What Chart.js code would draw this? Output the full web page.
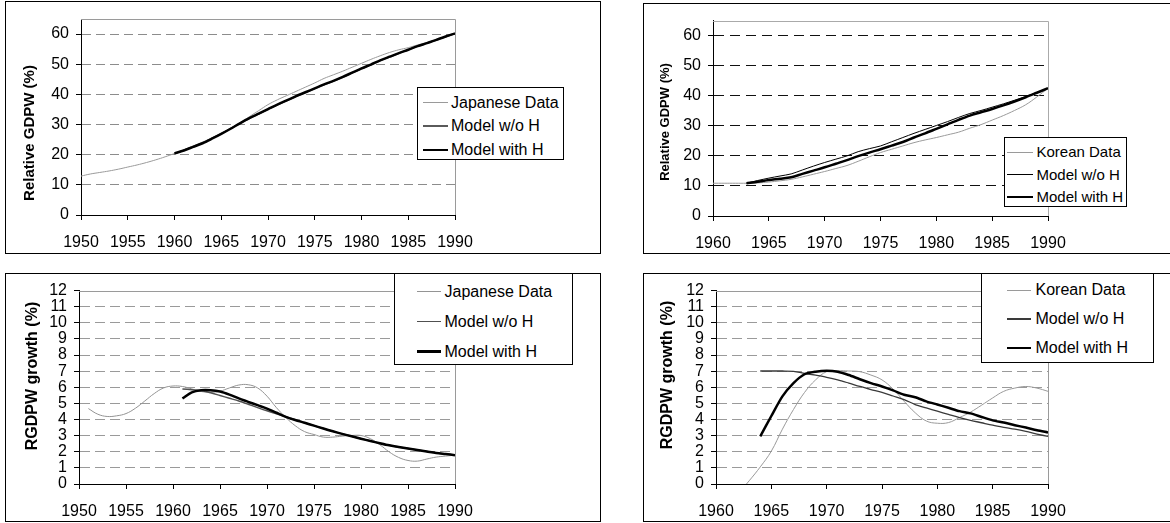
<!DOCTYPE html>
<html lang="en">
<head>
<meta charset="UTF-8">
<title>Relative GDPW and RGDPW growth - Japan and Korea</title>
<script src="https://cdn.jsdelivr.net/npm/chart.js"></script>
<style>
  body { margin: 0; width: 1170px; height: 523px; overflow: hidden; position: relative; background: #fff;
         font-family: "Liberation Sans", Arial, sans-serif; color: #000; }
  .panel { position: absolute; border: 1px solid #000; box-sizing: border-box; overflow: hidden; background: #fff; }
  .panel canvas { position: absolute; left: 0; top: 0; }
  .legend { position: absolute; border: 1px solid #000; box-sizing: border-box; background: #fff; }
  .legend .row { position: absolute; left: 0; right: 0; height: 20px; line-height: 20px; white-space: nowrap; }
  .legend .swatch { position: absolute; }
  .legend .text { position: absolute; top: 0; }
</style>
</head>
<body>

<div class="panel" style="left:5px;top:1px;width:596px;height:253px"><canvas id="c1" width="594" height="251"></canvas></div>
<div class="panel" style="left:643px;top:3px;width:532px;height:251px"><canvas id="c2" width="530" height="249"></canvas></div>
<div class="panel" style="left:5px;top:273px;width:596px;height:249px"><canvas id="c3" width="594" height="247"></canvas></div>
<div class="panel" style="left:643px;top:273px;width:532px;height:249px"><canvas id="c4" width="530" height="247"></canvas></div>

<script>
// years on the x axis
const years1950 = [1950, 1951, 1952, 1953, 1954, 1955, 1956, 1957, 1958, 1959,
                   1960, 1961, 1962, 1963, 1964, 1965, 1966, 1967, 1968, 1969,
                   1970, 1971, 1972, 1973, 1974, 1975, 1976, 1977, 1978, 1979,
                   1980, 1981, 1982, 1983, 1984, 1985, 1986, 1987, 1988, 1989, 1990];
const years1960 = [1960, 1961, 1962, 1963, 1964, 1965, 1966, 1967, 1968, 1969,
                   1970, 1971, 1972, 1973, 1974, 1975, 1976, 1977, 1978, 1979,
                   1980, 1981, 1982, 1983, 1984, 1985, 1986, 1987, 1988, 1989, 1990];

// tick labels
const xTicksJp = [1950, 1955, 1960, 1965, 1970, 1975, 1980, 1985, 1990];
const xTicksKr = [1960, 1965, 1970, 1975, 1980, 1985, 1990];
const relTicks = [0, 10, 20, 30, 40, 50, 60];
const growthTicks = [0, 1, 2, 3, 4, 5, 6, 7, 8, 9, 10, 11, 12];

// Japan, relative GDPW (%), 1950-1990
const jpRelData = [12.9, 13.6, 14.1, 14.6, 15.2, 15.9, 16.6, 17.4, 18.3, 19.3,
                   20.4, 21.6, 22.9, 24.2, 25.6, 27.0, 28.7, 30.5, 32.6, 34.6,
                   36.6, 38.2, 39.6, 41.0, 42.4, 43.8, 45.3, 46.5, 47.7, 49.0,
                   50.3, 51.6, 52.8, 53.9, 54.8, 55.5, 56.4, 57.2, 58.1, 59.1, 60.2];
const jpRelNoH = [null, null, null, null, null, null, null, null, null, null,
                  20.4, 21.5, 22.7, 23.9, 25.4, 27.0, 28.7, 30.4, 32.0, 33.5,
                  35.0, 36.5, 37.9, 39.3, 40.6, 41.9, 43.2, 44.4, 45.7, 47.1,
                  48.5, 49.8, 51.2, 52.4, 53.6, 54.8, 56.0, 57.0, 58.1, 59.1, 60.2];
const jpRelWithH = [null, null, null, null, null, null, null, null, null, null,
                    20.4, 21.4, 22.6, 23.8, 25.3, 26.9, 28.6, 30.4, 32.1, 33.6,
                    35.1, 36.6, 38.0, 39.4, 40.7, 42.0, 43.3, 44.5, 45.8, 47.2,
                    48.6, 49.9, 51.3, 52.5, 53.7, 54.8, 56.0, 57.0, 58.1, 59.2, 60.2];

// Korea, relative GDPW (%), 1960-1990
const krRelData = [10.9, 10.9, 10.9, 10.9, 11.0, 11.3, 11.7, 12.2, 13.0, 13.9,
                   14.8, 15.8, 16.8, 18.2, 19.7, 21.1, 22.2, 23.3, 24.4, 25.3,
                   26.1, 27.0, 27.9, 29.2, 30.4, 31.9, 33.4, 35.1, 37.0, 39.6, 42.5];
const krRelNoH = [null, null, null, 10.9, 11.8, 12.6, 13.3, 14.0, 15.3, 16.6,
                  17.8, 18.9, 20.0, 21.4, 22.4, 23.3, 24.7, 26.1, 27.5, 28.8,
                  30.1, 31.4, 32.8, 34.1, 35.1, 36.2, 37.3, 38.5, 39.7, 41.1, 42.5];
const krRelWithH = [null, null, null, 10.9, 11.4, 12.0, 12.4, 12.9, 14.0, 15.1,
                    16.2, 17.4, 18.6, 19.9, 21.1, 22.2, 23.4, 24.6, 26.1, 27.5,
                    29.0, 30.5, 32.0, 33.4, 34.5, 35.6, 36.8, 38.1, 39.5, 41.0, 42.5];

// Japan, RGDPW growth (%), 1950-1990
const jpGrowthData = [null, 4.68, 4.33, 4.19, 4.23, 4.37, 4.70, 5.15, 5.61, 5.96,
                      6.08, 6.05, 5.90, 5.74, 5.69, 5.76, 5.96, 6.14, 6.16, 5.96,
                      5.45, 4.74, 4.13, 3.62, 3.25, 3.07, 2.91, 2.91, 2.97, 3.01,
                      3.01, 2.81, 2.44, 1.99, 1.65, 1.46, 1.42, 1.55, 1.67, 1.73, 1.79];
const jpGrowthNoH = [null, null, null, null, null, null, null, null, null, null,
                     null, 5.90, 5.85, 5.80, 5.66, 5.49, 5.32, 5.15, 4.95, 4.74,
                     4.54, 4.36, 4.17, 3.99, 3.80, 3.62, 3.44, 3.27, 3.11, 2.96,
                     2.81, 2.67, 2.53, 2.40, 2.30, 2.20, 2.11, 2.02, 1.93, 1.86, 1.79];
const jpGrowthWithH = [null, null, null, null, null, null, null, null, null, null,
                       null, 5.31, 5.69, 5.82, 5.82, 5.74, 5.55, 5.31, 5.10, 4.89,
                       4.68, 4.42, 4.17, 3.97, 3.80, 3.62, 3.44, 3.27, 3.11, 2.96,
                       2.81, 2.67, 2.53, 2.40, 2.30, 2.20, 2.11, 2.02, 1.93, 1.86, 1.79];

// Korea, RGDPW growth (%), 1960-1990
const krGrowthData = [null, null, -0.6, 0.2, 1.06, 2.04, 3.40, 4.62, 5.68, 6.46,
                      6.97, 7.03, 7.01, 6.97, 6.76, 6.46, 5.89, 5.13, 4.42, 3.91,
                      3.77, 3.81, 4.12, 4.46, 4.89, 5.34, 5.75, 5.95, 6.05, 5.95, 5.75];
const krGrowthNoH = [null, null, null, null, 7.01, 7.01, 7.01, 6.99, 6.87, 6.75,
                     6.62, 6.46, 6.26, 6.05, 5.86, 5.68, 5.46, 5.24, 4.93, 4.72,
                     4.52, 4.32, 4.12, 3.95, 3.80, 3.65, 3.52, 3.40, 3.26, 3.10, 2.95];
const krGrowthWithH = [null, null, null, null, 2.95, 4.22, 5.44, 6.26, 6.81, 6.97,
                       7.03, 6.97, 6.76, 6.50, 6.26, 6.05, 5.81, 5.54, 5.38, 5.13,
                       4.93, 4.73, 4.52, 4.38, 4.16, 3.95, 3.81, 3.65, 3.50, 3.34, 3.20];

const FONT = '"Liberation Sans", Arial, sans-serif';

// grey frame on top and right side of the plot area
const plotFrame = {
    id: 'plotFrame',
    beforeDatasetsDraw(chart, args, opts) {
        const {ctx, chartArea: a} = chart;
        const top = Math.round(a.top) + 0.5, right = Math.round(a.right) + 0.5;
        ctx.save();
        ctx.strokeStyle = opts.color;
        ctx.lineWidth = 1;
        ctx.beginPath();
        ctx.moveTo(a.left, top);
        ctx.lineTo(right, top);
        ctx.lineTo(right, a.bottom);
        ctx.stroke();
        ctx.restore();
    }
};

// rotated y axis title, placed like the original
const sideTitle = {
    id: 'sideTitle',
    afterDraw(chart, args, o) {
        const ctx = chart.ctx;
        ctx.save();
        ctx.translate(o.x, o.y);
        ctx.rotate(-Math.PI / 2);
        ctx.font = 'bold ' + o.size + 'px ' + FONT;
        ctx.fillStyle = '#000';
        ctx.textAlign = 'center';
        ctx.textBaseline = 'middle';
        ctx.fillText(o.text, 0, 0);
        ctx.restore();
    }
};

function buildLegend(chart, lg) {
    const box = document.createElement('div');
    box.className = 'legend';
    Object.assign(box.style, {
        left: lg.left + 'px', top: lg.top + 'px', width: lg.width + 'px', height: lg.height + 'px',
        fontSize: lg.size + 'px'
    });
    chart.data.datasets.forEach((ds, i) => {
        const row = document.createElement('div');
        row.className = 'row';
        row.style.top = (lg.rowTop + i * lg.rowGap - 10) + 'px';
        const sw = document.createElement('span');
        sw.className = 'swatch';
        Object.assign(sw.style, {
            left: lg.lineX + 'px', width: lg.lineW + 'px', height: ds.borderWidth + 'px',
            top: (10 - ds.borderWidth / 2) + 'px', background: ds.borderColor
        });
        const tx = document.createElement('span');
        tx.className = 'text';
        tx.style.left = lg.textX + 'px';
        tx.textContent = ds.label;
        row.appendChild(sw);
        row.appendChild(tx);
        box.appendChild(row);
    });
    document.body.appendChild(box);
}

function makePanel(p) {
    const canvas = document.getElementById(p.canvas);
    const n = p.series.length;
    const chart = new Chart(canvas, {
        type: 'line',
        data: {
            datasets: p.series.map((s, i) => ({
                label: s.label,
                data: p.years.map((x, k) => ({x: x, y: s.values[k]})),
                borderColor: s.color,
                borderWidth: s.width,
                tension: s.tension,
                pointRadius: 0,
                fill: false,
                order: n - i
            }))
        },
        options: {
            responsive: false,
            animation: false,
            events: [],
            layout: { padding: { left: 0, top: p.area.top, right: p.area.right, bottom: 0 } },
            plugins: {
                legend: { display: false },
                tooltip: { enabled: false },
                plotFrame: { color: p.frame },
                sideTitle: p.title
            },
            scales: {
                x: {
                    type: 'linear',
                    min: p.xTicks[0],
                    max: p.xTicks[p.xTicks.length - 1],
                    afterBuildTicks: s => { s.ticks = p.xTicks.map(v => ({value: v})); },
                    afterFit: s => { s.height = p.area.xHeight; },
                    ticks: { autoSkip: false, maxRotation: 0, padding: 13, color: '#000',
                             font: { family: FONT, size: 16 }, callback: v => String(v) },
                    grid: { drawOnChartArea: false, tickLength: 5, tickColor: '#000', color: '#000' },
                    border: { color: '#000', width: 1 }
                },
                y: {
                    type: 'linear',
                    min: 0,
                    max: p.yMax,
                    afterBuildTicks: s => { s.ticks = p.yTicks.map(v => ({value: v})); },
                    afterFit: s => { s.width = p.area.left; },
                    ticks: { autoSkip: false, padding: 7, color: '#000',
                             font: { family: FONT, size: 16 }, callback: v => String(v) },
                    grid: {
                        color: c => (c.tick && (c.tick.value === 0 || c.tick.value === p.yMax)) ? 'rgba(0,0,0,0)' : p.grid,
                        tickLength: 5, tickColor: '#000', lineWidth: 1
                    },
                    border: { color: '#000', width: 1, dash: p.dash }
                }
            }
        },
        plugins: [plotFrame, sideTitle]
    });
    buildLegend(chart, p.legend);
}

makePanel({
    canvas: 'c1', years: years1950, xTicks: xTicksJp, yTicks: relTicks, yMax: 65,
    series: [
        { label: 'Japanese Data', values: jpRelData, color: '#9a9a9a', width: 1, tension: 0.4 },
        { label: 'Model w/o H', values: jpRelNoH, color: '#5a5a5a', width: 1.5, tension: 0.3 },
        { label: 'Model with H', values: jpRelWithH, color: '#000', width: 2.5, tension: 0.3 }
    ],
    grid: '#8c8c8c', dash: [9, 5], frame: '#9a9a9a',
    area: { left: 75, top: 17, right: 145, xHeight: 38 },
    title: { text: 'Relative GDPW (%)', x: 24, y: 131, size: 15 },
    legend: { left: 417, top: 87, width: 147, height: 73, rowTop: 14.5, rowGap: 23.7,
              lineX: 5, lineW: 25, textX: 33, size: 16 }
});

makePanel({
    canvas: 'c2', years: years1960, xTicks: xTicksKr, yTicks: relTicks, yMax: 65,
    series: [
        { label: 'Korean Data', values: krRelData, color: '#9a9a9a', width: 1, tension: 0.4 },
        { label: 'Model w/o H', values: krRelNoH, color: '#000', width: 1, tension: 0.3 },
        { label: 'Model with H', values: krRelWithH, color: '#000', width: 2.5, tension: 0.3 }
    ],
    grid: '#111', dash: [10, 6], frame: '#aaaaaa',
    area: { left: 69, top: 14, right: 126, xHeight: 37 },
    title: { text: 'Relative GDPW (%)', x: 21, y: 118, size: 13 },
    legend: { left: 1004, top: 137, width: 123, height: 70, rowTop: 14, rowGap: 22.5,
              lineX: 2, lineW: 26, textX: 31.5, size: 15 }
});

makePanel({
    canvas: 'c3', years: years1950, xTicks: xTicksJp, yTicks: growthTicks, yMax: 12,
    series: [
        { label: 'Japanese Data', values: jpGrowthData, color: '#949494', width: 1, tension: 0.4 },
        { label: 'Model w/o H', values: jpGrowthNoH, color: '#505050', width: 1.5, tension: 0.3 },
        { label: 'Model with H', values: jpGrowthWithH, color: '#000', width: 2.5, tension: 0.3 }
    ],
    grid: '#9a9a9a', dash: [10, 5], frame: '#9a9a9a',
    area: { left: 73, top: 13, right: 145, xHeight: 37 },
    title: { text: 'RGDPW growth (%)', x: 27, y: 102, size: 16 },
    legend: { left: 394, top: 273, width: 179, height: 92, rowTop: 17.7, rowGap: 30,
              lineX: 21.7, lineW: 24, textX: 49.5, size: 16 }
});

makePanel({
    canvas: 'c4', years: years1960, xTicks: xTicksKr, yTicks: growthTicks, yMax: 12,
    series: [
        { label: 'Korean Data', values: krGrowthData, color: '#9a9a9a', width: 1, tension: 0.4 },
        { label: 'Model w/o H', values: krGrowthNoH, color: '#3a3a3a', width: 1.3, tension: 0.3 },
        { label: 'Model with H', values: krGrowthWithH, color: '#000', width: 2.5, tension: 0.25 }
    ],
    grid: '#9a9a9a', dash: [10, 5], frame: '#9a9a9a',
    area: { left: 72, top: 13, right: 126, xHeight: 37 },
    title: { text: 'RGDPW growth (%)', x: 24, y: 101, size: 16 },
    legend: { left: 981, top: 273, width: 173, height: 90, rowTop: 16, rowGap: 29,
              lineX: 25, lineW: 24, textX: 53.5, size: 16 }
});
</script>
</body>
</html>
